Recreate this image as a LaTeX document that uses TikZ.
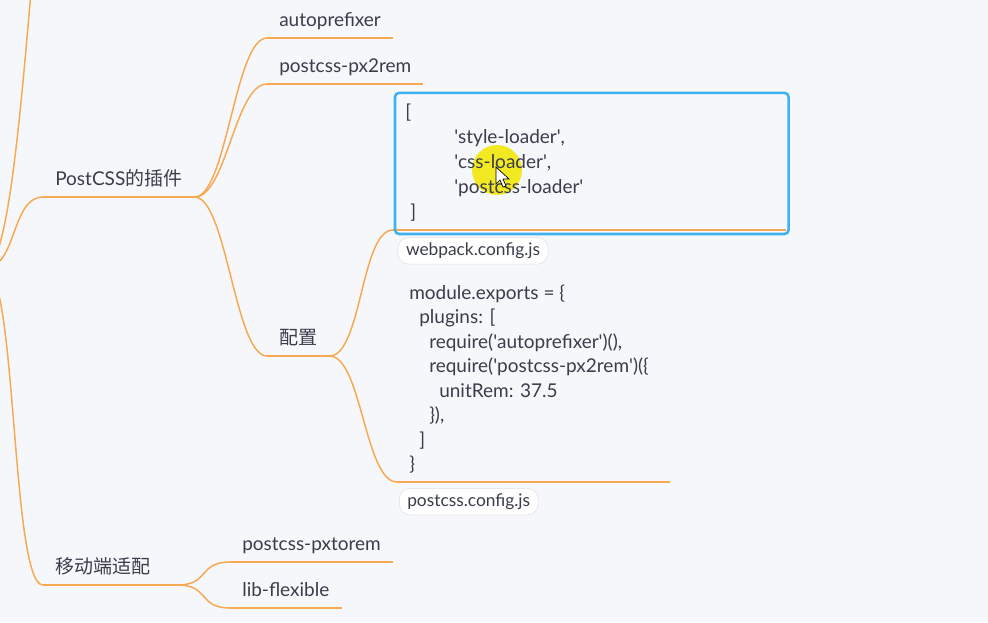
\documentclass[tikz,border=0pt]{standalone}
\usepackage{fontspec}
\setmainfont{Lato}
\newfontfamily\cjk{Noto Sans CJK SC}
\usetikzlibrary{positioning, calc, fit}
\definecolor{bgpage}{RGB}{246,247,251}
\definecolor{orange1}{RGB}{247,168,82}
\definecolor{blue1}{RGB}{62,178,240}
\definecolor{ink}{RGB}{58,61,74}
\definecolor{yellow1}{RGB}{242,232,12}
\newcommand{\sq}{\textquotesingle}

\begin{document}
\begin{tikzpicture}[
  x=0.75pt, y=-0.75pt,
  every node/.style={text=ink},
  branch/.style={draw=orange1, line width=1.1pt},
  topic/.style={anchor=south west, inner xsep=9pt, inner ysep=8.25pt,
                text depth=0pt, font=\fontsize{14.25}{18.5}\selectfont},
  code/.style={topic, align=left},
  selbox/.style={draw=blue1, line width=1.9pt, rounded corners=3pt, inner sep=0pt},
  filelabel/.style={draw=black!12, fill=white, rounded corners=8pt, inner xsep=6pt,
                    inner ysep=4pt, font=\fontsize{13}{15}\selectfont},
]
\path[fill=bgpage, use as bounding box] (0,0) rectangle (988,622);
\clip (0,0) rectangle (988,622);

% cursor highlight
\fill[yellow1, opacity=0.9] (497,170) circle [radius=25];

\coordinate (root) at (-15,268);
\coordinate (upper) at (80,-320);

\node[topic] (pcss) at (43,197) {PostCSS{\cjk 的插件}};
\node[topic] (auto) at (267,38) {autoprefixer};
\node[topic] (px2rem) at (267,84) {postcss-px2rem};
\node[topic] (peizhi) at (267,356) {\cjk 配置};
\node[code, font=\fontsize{14.25}{18.75}\selectfont] (wpcode) at (393,230)
  {\makebox[276pt][l]{[}\\
   \hspace*{36.75pt}\sq style-loader\sq,\\
   \hspace*{36.75pt}\sq css-loader\sq,\\
   \hspace*{36.75pt}\sq postcss-loader\sq\\
   \hspace*{3.75pt}]};
\node[code, font=\fontsize{14.25}{18.4}\selectfont] (pccode) at (397,482)
  {\makebox[186pt][l]{module.exports = \{}\\
   \hspace*{7.5pt}plugins: [\\
   \hspace*{15pt}require(\sq autoprefixer\sq)(),\\
   \hspace*{15pt}require(\sq postcss-px2rem\sq)(\{\\
   \hspace*{22.5pt}unitRem: 37.5\\
   \hspace*{15pt}\}),\\
   \hspace*{7.5pt}]\\
   \}};
\node[topic, text width=82.5pt, align=left] (mobile) at (43,585) {\cjk 移动端适配};
\node[topic] (pxtorem) at (230,562) {postcss-pxtorem};
\node[topic] (flexible) at (230,608) {lib-flexible};

% underlines
\foreach \n in {pcss,auto,px2rem,peizhi,wpcode,pccode,mobile,pxtorem,flexible}
  \draw[branch] (\n.south west) -- (\n.south east);

% branches
\draw[branch] (root) .. controls +(45,0) and +(-45,0) .. (upper);
\draw[branch] (root) .. controls +(32,0) and +(-32,0) .. (pcss.south west);
\draw[branch] (root) .. controls +(32,0) and +(-32,0) .. (mobile.south west);
\foreach \a/\b in {pcss/auto, pcss/px2rem, pcss/peizhi, peizhi/wpcode,
                   peizhi/pccode, mobile/pxtorem, mobile/flexible}
  \draw[branch] (\a.south east) .. controls +(32,0) and +(-32,0) .. (\b.south west);

\node[selbox, fit={([xshift=1.5pt,yshift=-3pt]wpcode.south west) ([xshift=2.25pt]wpcode.north east)}] (wpframe) {};

\node[filelabel, below right=1.5pt and 3pt of wpframe.south west] (wplabel) {webpack.config.js};
\node[filelabel, below right=4.5pt and 1.5pt of pccode.south west] (pclabel) {postcss.config.js};

% mouse pointer
\draw[fill=white, line width=0.5pt] (496,167) -- (496,184) -- (500,180) -- (503,187)
  -- (506,186) -- (503,179) -- (509,179) -- cycle;
\end{tikzpicture}
\end{document}
